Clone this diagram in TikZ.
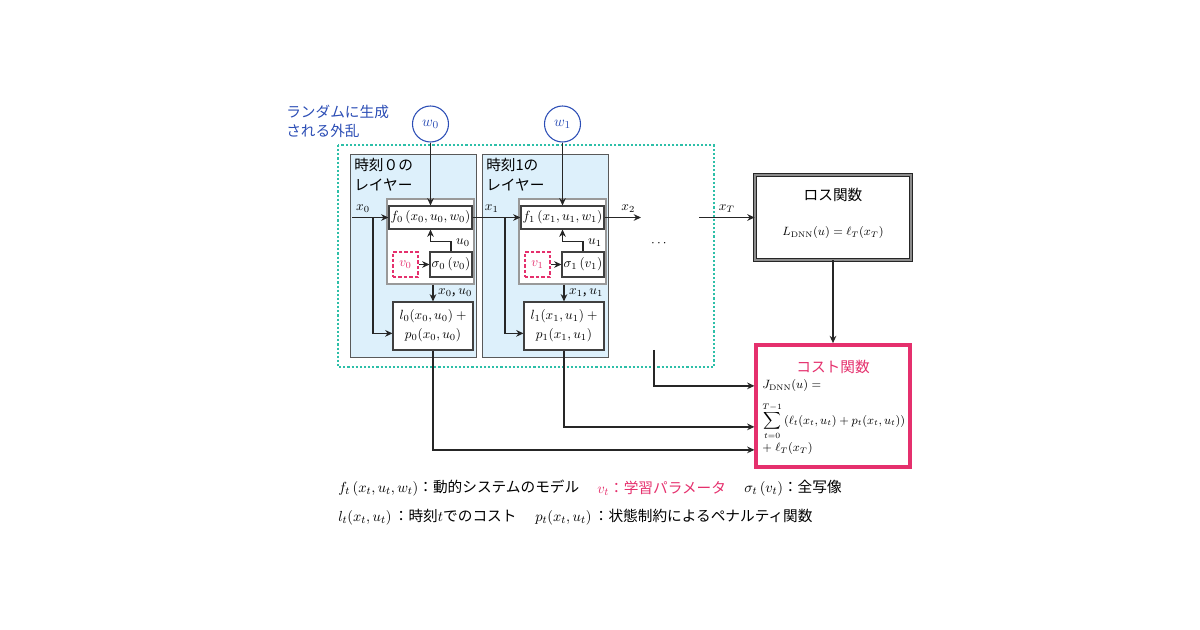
\documentclass[tikz,border=0pt]{standalone}
\usepackage[no-math]{fontspec}
\setmainfont{Noto Sans CJK JP}
\usepackage{amsmath}
\usetikzlibrary{arrows,arrows.meta,positioning,calc}
\definecolor{layerblue}{HTML}{DDF0FB}
\definecolor{costpink}{HTML}{E5306D}
\definecolor{noiseblue}{HTML}{2B4DB5}
\definecolor{dotteal}{HTML}{2DBFA8}
\newcommand{\DNN}{\mathrm{DNN}}

\begin{document}
\begin{tikzpicture}[x=0.75pt, y=-0.75pt, >={Stealth[length=5.5pt, width=5pt]}, font=\fontsize{10}{12}\selectfont]
	\tikzstyle{layerbox} = [draw=black!65, fill=layerblue, semithick, minimum width=94.5pt, minimum height=152.25pt, inner sep=0pt]
	\tikzstyle{innerbox} = [draw=black!40, fill=white, line width=1.1pt, minimum width=65.25pt, minimum height=63.75pt, inner sep=0pt]
	\tikzstyle{funcbox} = [draw=black!75, fill=white, thick, minimum width=62.25pt, minimum height=17.25pt, inner sep=0pt]
	\tikzstyle{sigbox} = [draw=black!75, fill=white, thick, minimum width=31.5pt, minimum height=18.75pt, inner sep=0pt]
	\tikzstyle{parbox} = [draw=costpink, dash pattern=on 2.6pt off 1.5pt, thick, text=costpink, minimum size=18.75pt, inner sep=0pt]
	\tikzstyle{costfn} = [draw=black!75, fill=white, thick, minimum width=60pt, minimum height=36pt, inner sep=0pt, align=center, font=\fontsize{10}{14}\selectfont]
	\tikzstyle{noise} = [draw=noiseblue, thick, circle, minimum size=27pt, inner sep=0pt, text=noiseblue, font=\fontsize{11}{13}\selectfont]
	\tikzstyle{jp} = [font=\fontsize{11}{15}\selectfont, inner sep=0pt, align=left]
	\tikzstyle{formula} = [font=\fontsize{9}{11}\selectfont, inner sep=0pt]
	\tikzstyle{legend} = [font=\fontsize{11}{13}\selectfont, inner sep=0pt, anchor=west]
	\tikzstyle{wire} = [->, line width=1.05pt, black!85]

	\useasboundingbox (0,0) rectangle (1200,630);

	% disturbances and the two layers
	\node[jp, text=noiseblue, font=\fontsize{11}{14.25}\selectfont, anchor=west] (noisetxt) at (286,121.5) {ランダムに生成\\される外乱};
	\draw[dotteal, line width=1.6pt, dash pattern=on 1.6pt off 1.5pt] (338,145) rectangle (714,367);

	\node[layerbox] (L0) at (413,255.5) {};
	\node[layerbox] (L1) at (545,255.5) {};
	\node[jp, anchor=west] (L0t) at (354,175) {時刻０の\\レイヤー};
	\node[jp, anchor=west] (L1t) at (486,175) {時刻1の\\レイヤー};

	\node[noise] (w0) at (430.5,124) {$w_0$};
	\node[noise] (w1) at (562.5,124) {$w_1$};

	\node[innerbox] (in0) at (430.5,241.5) {};
	\node[funcbox] (f0) at (430.5,217.5) {$f_0\,(x_0, u_0, w_0)$};
	\node[sigbox] (s0) at (451,264.5) {$\sigma_0\,(v_0)$};
	\node[parbox] (v0) at (405.5,264.5) {$v_0$};
	\node[costfn] (l0) at (433,326) {$l_0(x_0, u_0)\ +$\\$p_0(x_0, u_0)$};

	\node[innerbox] (in1) at (562.5,241.5) {};
	\node[funcbox] (f1) at (562.5,217.5) {$f_1\,(x_1, u_1, w_1)$};
	\node[sigbox] (s1) at (583,264.5) {$\sigma_1\,(v_1)$};
	\node[parbox] (v1) at (537.5,264.5) {$v_1$};
	\node[costfn] (l1) at (564,326) {$l_1(x_1, u_1)\ +$\\$p_1(x_1, u_1)$};

	\node (dots) at (660,244) {$\cdots$};

	% loss and cost
	\node[draw=black!85, double=black!45, double distance=1.5pt, line width=0.6pt, fill=white, minimum width=117pt, minimum height=63.75pt] (loss) at (833,217.5) {};
	\node[jp] (losst) at (833,195) {ロス関数};
	\node[formula] (lossf) at (833,233) {$L_{\DNN}(u) = \ell_T(x_T)$};

	\node[draw=costpink, line width=2.8pt, fill=white, minimum width=115pt, minimum height=91.5pt] (cost) at (833,406) {};
	\node[jp, text=costpink] (costt) at (833,367) {コスト関数};
	\node[formula, anchor=west] (costf1) at (762,386) {$J_{\DNN}(u) =$};
	\node[formula, anchor=west] (costf2) at (762,421) {$\displaystyle\sum_{t=0}^{T-1}\,(\ell_t(x_t, u_t) + p_t(x_t, u_t))$};
	\node[formula, anchor=west] (costf3) at (762,449) {$+\;\ell_T(x_T)$};

	\coordinate (x0in) at (352,217.5);
	\coordinate (b0) at (373,217.5);
	\coordinate (b1) at (505,217.5);
	\coordinate (x2end) at (641,217.5);
	\coordinate (xTin) at (699,217.5);
	\coordinate (tail) at (654,350);
	\path (cost.south west) ++(0,-19) coordinate (cin3);
	\path (cost.south west) ++(0,-42) coordinate (cin2);
	\path (cost.south west) ++(0,-83) coordinate (cin1);

	% connectors
	\draw[wire] (w0) -- (w0 |- f0.north);
	\draw[wire] (w1) -- (w1 |- f1.north);
	\draw[wire] (x0in) -- node[above, pos=0.3, black] {$x_0$} (f0.west);
	\draw[wire] (b0) |- ($(l0.south west)!0.35!(l0.north west)$);
	\draw[wire] (f0.east) -- node[above, pos=0.4, black] {$x_1$} (f1.west);
	\draw[wire] (b1) |- ($(l1.south west)!0.35!(l1.north west)$);
	\draw[wire] (f1.east) -- node[above, pos=0.65, black] {$x_2$} (x2end);
	\draw[wire] (xTin) -- node[above, pos=0.5, black] {$x_T$} (loss.west);

	\draw[wire] (v0) -- (s0);
	\draw[wire] (s0.north) -- node[right, pos=0.9, black] {$u_0$} ++(0,-10) -| (f0.south);
	\draw[wire] (in0.south -| l0.north) -- node[right, black] {$x_0$, $u_0$} (l0.north);
	\draw[wire] (v1) -- (s1);
	\draw[wire] (s1.north) -- node[right, pos=0.9, black] {$u_1$} ++(0,-10) -| (f1.south);
	\draw[wire] (in1.south -| l1.north) -- node[right, black] {$x_1$, $u_1$} (l1.north);

	\draw[wire] (loss.south) -- (cost.north);
	\draw[wire] (l0.south) |- (cin3);
	\draw[wire] (l1.south) |- (cin2);
	\draw[wire] (tail) |- (cin1);

	% legend
	\node[legend] (leg1) at (338,488) {$f_t\,(x_t, u_t, w_t)$：動的システムのモデル};
	\node[legend, text=costpink] (leg2) at (597,488) {$v_t$：学習パラメータ};
	\node[legend] (leg3) at (744,488) {$\sigma_t\,(v_t)$：全写像};
	\node[legend] (leg4) at (338,517) {$l_t(x_t, u_t)$\,：時刻$t$でのコスト};
	\node[legend] (leg5) at (535,517) {$p_t(x_t, u_t)$\,：状態制約によるペナルティ関数};
\end{tikzpicture}
\end{document}
